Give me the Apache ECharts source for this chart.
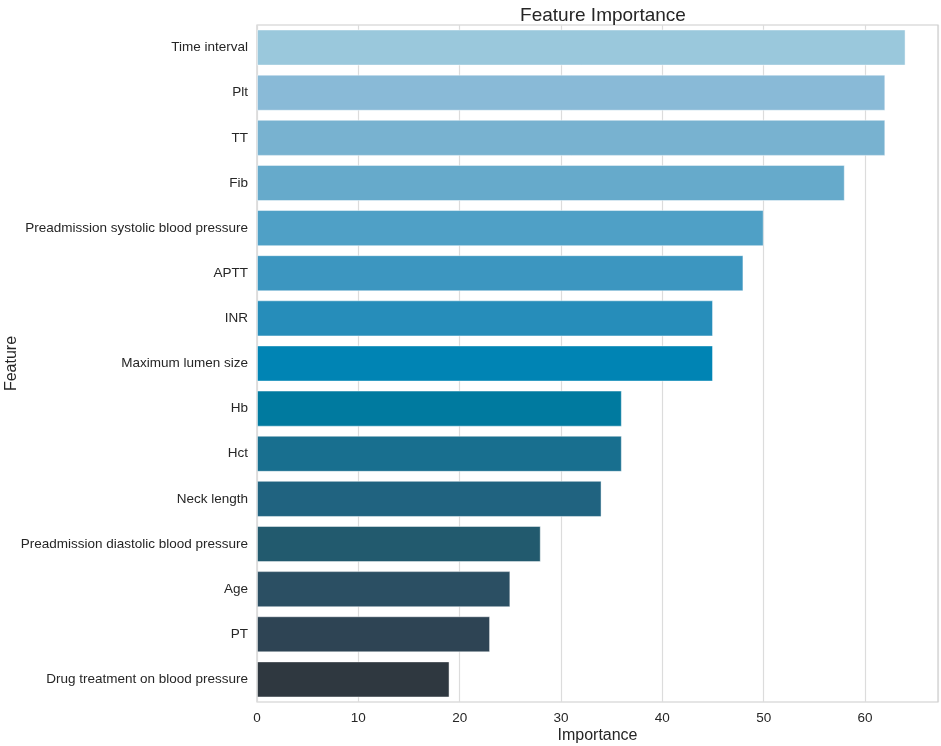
<!DOCTYPE html>
<html style="height: 100%">
<head>
    <meta charset="utf-8">
</head>
<body style="height: 100%; margin: 0; background: #ffffff">
    <div id="container" style="width: 941px; height: 746px"></div>
    <script src="https://cdn.jsdelivr.net/npm/echarts@6/dist/echarts.min.js"></script>
    <script type="text/javascript">
        // feature names, top to bottom
        var features = ['Time interval', 'Plt', 'TT', 'Fib', 'Preadmission systolic blood pressure',
            'APTT', 'INR', 'Maximum lumen size', 'Hb', 'Hct', 'Neck length',
            'Preadmission diastolic blood pressure', 'Age', 'PT', 'Drug treatment on blood pressure'];
        var importance = [64, 62, 62, 58, 50, 48, 45, 45, 36, 36, 34, 28, 25, 23, 19];
        var palette = ['#9ac8dc', '#89bad7', '#78b2d0', '#66aacb', '#4fa0c6', '#3c96c0', '#268dba',
            '#0084b4', '#007a9f', '#186f8f', '#206380', '#225a6e', '#2b4f63', '#2e4454', '#2f3840'];

        var dom = document.getElementById('container');
        var myChart = echarts.init(dom);
        var font = 'Liberation Sans, Arial, sans-serif';

        var option = {
            backgroundColor: '#ffffff',
            animation: false,
            title: {
                text: 'Feature Importance',
                left: 598, top: 1, textAlign: 'center',
                textStyle: { fontFamily: font, fontSize: 19, fontWeight: 'normal', color: '#262626' }
            },
            grid: {
                left: 257, right: 3, top: 25, bottom: 44,
                containLabel: false, outerBoundsMode: 'none',
                show: true, borderColor: '#cccccc', borderWidth: 1.2
            },
            xAxis: {
                type: 'value', min: 0, max: 67.2, interval: 10,
                name: 'Importance', nameLocation: 'middle', nameGap: 26, nameMoveOverlap: false,
                nameTextStyle: { fontFamily: font, fontSize: 16, color: '#262626' },
                axisLine: { show: false },
                axisTick: { show: false },
                axisLabel: {
                    fontFamily: font, fontSize: 13.5, color: '#262626', margin: 9,
                    formatter: function (v) { return v % 10 === 0 ? String(v) : ''; }
                },
                splitLine: { show: true, lineStyle: { color: '#dcdcdc', width: 1.2 } }
            },
            yAxis: {
                type: 'category', data: features, inverse: true,
                name: 'Feature', nameLocation: 'middle', nameGap: 237, nameRotate: 90, nameMoveOverlap: false,
                nameTextStyle: { fontFamily: font, fontSize: 16, color: '#262626' },
                axisLine: { show: false },
                axisTick: { show: false },
                axisLabel: { fontFamily: font, fontSize: 13.5, color: '#262626', margin: 9 },
                splitLine: { show: false }
            },
            series: [{
                type: 'bar',
                barCategoryGap: '20%',
                data: importance.map(function (v, i) {
                    return {
                        value: v,
                        itemStyle: { color: palette[i], borderColor: 'rgba(255,255,255,0.45)', borderWidth: 1 }
                    };
                })
            }]
        };
        myChart.setOption(option);
    </script>
</body>
</html>
